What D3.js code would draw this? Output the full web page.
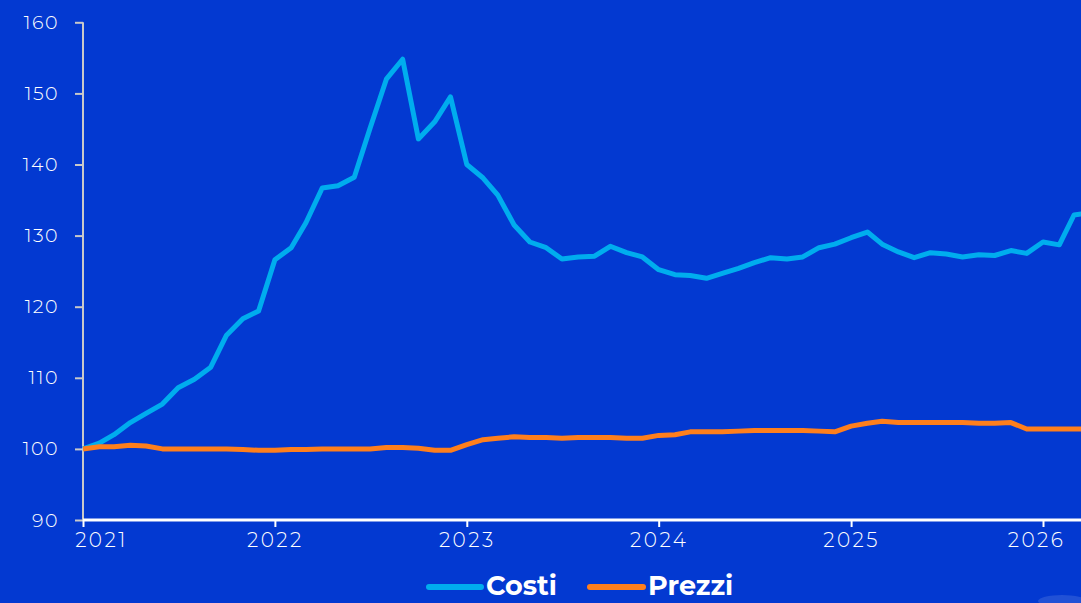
<!DOCTYPE html>
<html>
<head>
<meta charset="utf-8">
<script src="https://cdn.jsdelivr.net/npm/d3@7"></script>
<style>
  html, body { margin: 0; padding: 0; background: #0339D1; overflow: hidden; }
  svg { display: block; }
</style>
</head>
<body>
<svg id="chart" width="1081" height="603"></svg>
<script>
// ---- Data ----
const startMonth = new Date(2021, 0, 1);
const seriesNames = ["Costi", "Prezzi"];
const costi = [
  100.0, 100.8, 102.0, 103.7, 105.0, 106.3, 108.6, 109.8, 111.5, 116.0, 118.3, 119.4,
  126.6, 128.3, 131.8, 136.7, 137.0, 138.2, 145.1, 152.0, 154.8, 143.6, 146.0, 149.5,
  140.0, 138.1, 135.7, 131.5, 129.1, 128.3, 126.7, 127.0, 127.1, 128.5, 127.6, 127.0,
  125.2, 124.5, 124.4, 124.0, 124.7, 125.4, 126.2, 126.9, 126.7, 127.0, 128.3, 128.8,
  129.7, 130.5, 128.8, 127.7, 126.9, 127.6, 127.4, 127.0, 127.3, 127.2, 127.9, 127.5,
  129.1, 128.7, 132.9, 133.2
];
const prezzi = [
  100.0, 100.3, 100.3, 100.5, 100.4, 100.0, 100.0, 100.0, 100.0, 100.0, 99.9, 99.8,
  99.8, 99.9, 99.9, 100.0, 100.0, 100.0, 100.0, 100.2, 100.2, 100.1, 99.8, 99.8,
  100.6, 101.3, 101.5, 101.7, 101.6, 101.6, 101.5, 101.6, 101.6, 101.6, 101.5, 101.5,
  101.9, 102.0, 102.4, 102.4, 102.4, 102.5, 102.6, 102.6, 102.6, 102.6, 102.5, 102.4,
  103.2, 103.6, 103.9, 103.7, 103.7, 103.7, 103.7, 103.7, 103.6, 103.6, 103.7, 102.8,
  102.8, 102.8, 102.8, 102.8
];
const yTicks = [90, 100, 110, 120, 130, 140, 150, 160];
const xTickYears = [2021, 2022, 2023, 2024, 2025, 2026];
const colors = ["#00ADEE", "#FF7F1C"];

// ---- Layout ----
const W = 1081, H = 603;
const plotLeft = 83, plotBottom = 520, plotTop = 22.3;
const svg = d3.select("#chart");

const months = d3.range(costi.length).map(i => d3.timeMonth.offset(startMonth, i));
const x = d3.scaleTime()
  .domain([new Date(2021, 0, 1), new Date(2026, 0, 1)])
  .range([plotLeft, 1043]);
const y = d3.scaleLinear().domain([90, 160]).range([plotBottom, plotTop]);

const fontTick = "Montserrat, 'Open Sans', 'Noto Sans', sans-serif";

// clip
svg.append("defs").append("clipPath").attr("id", "clip")
  .append("rect").attr("x", 0).attr("y", 0).attr("width", W).attr("height", plotBottom + 10);

// Y axis
const yAxis = svg.append("g").attr("transform", `translate(${plotLeft},0)`)
  .call(d3.axisLeft(y).tickValues(yTicks).tickSize(8).tickPadding(16).tickFormat(d3.format("d")));
yAxis.select(".domain").attr("stroke", "#c9c9c9").attr("stroke-width", 2)
  .attr("d", `M0,${y(160)}V${y(90)}`);
yAxis.selectAll(".tick line").attr("stroke", "#c9c9c9").attr("stroke-width", 2);
yAxis.selectAll(".tick text").attr("fill", "#ffffff").attr("font-size", 19)
  .attr("font-family", fontTick).attr("font-weight", 300).attr("letter-spacing", "1.5px");

// X axis
const xAxis = svg.append("g").attr("transform", `translate(0,${plotBottom})`)
  .call(d3.axisBottom(x).tickValues(xTickYears.map(yr => new Date(yr, 0, 1)))
    .tickSize(7).tickPadding(6).tickFormat(d3.timeFormat("%Y")));
xAxis.select(".domain").attr("stroke", "#ffffff").attr("stroke-width", 3)
  .attr("d", `M${plotLeft},0H${W}`);
xAxis.selectAll(".tick line").attr("stroke", "#ffffff").attr("stroke-width", 2);
xAxis.selectAll(".tick text").attr("fill", "#ffffff").attr("font-size", 20)
  .attr("font-family", fontTick).attr("font-weight", 300).attr("letter-spacing", "2.5px")
  .attr("dx", (d, i) => i === 0 ? 18 : (i === xTickYears.length - 1 ? -7 : 0));

// Lines
const line = d3.line().x((d, i) => x(months[i])).y(d => y(d));
const g = svg.append("g").attr("clip-path", "url(#clip)");
[costi, prezzi].forEach((s, k) => {
  g.append("path").datum(s)
    .attr("fill", "none")
    .attr("stroke", colors[k])
    .attr("stroke-width", 5)
    .attr("stroke-linejoin", "round")
    .attr("stroke-linecap", "butt")
    .attr("d", line);
});

// Legend
const legend = svg.append("g");
const legendItems = [
  { name: seriesNames[0], x0: 429, x1: 481, tx: 486 },
  { name: seriesNames[1], x0: 590, x1: 643, tx: 648 }
];
legendItems.forEach((it, k) => {
  legend.append("line").attr("x1", it.x0).attr("x2", it.x1).attr("y1", 587).attr("y2", 587)
    .attr("stroke", colors[k]).attr("stroke-width", 6).attr("stroke-linecap", "round");
  legend.append("text").attr("x", it.tx).attr("y", 595)
    .attr("fill", "#ffffff").attr("font-size", 27).attr("font-weight", 700)
    .attr("font-family", "Montserrat, 'Open Sans', sans-serif")
    .text(it.name);
});

// faint decorative blob bottom right
svg.append("ellipse").attr("cx", 1062).attr("cy", 601).attr("rx", 24).attr("ry", 6)
  .attr("fill", "#ffffff").attr("opacity", 0.12);
</script>
</body>
</html>
